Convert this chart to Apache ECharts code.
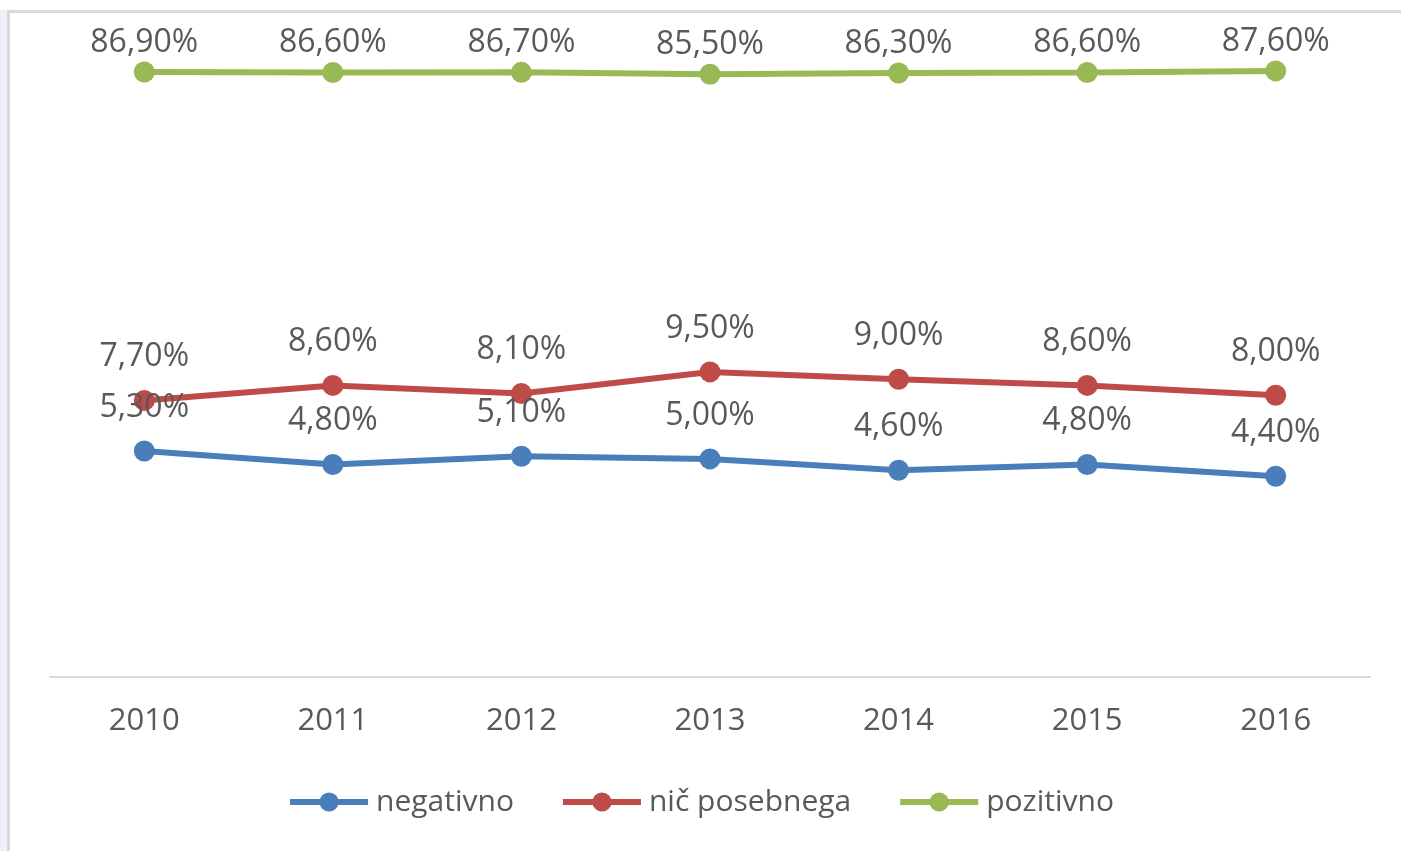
<!DOCTYPE html>
<html>
<head>
<meta charset="utf-8">
<script src="https://cdn.jsdelivr.net/npm/echarts@6/dist/echarts.min.js"></script>
<style>
html,body{margin:0;padding:0;width:1401px;height:851px;overflow:hidden;background:#eef0f6;}
#frame{position:absolute;left:7px;top:10px;width:1394px;height:841px;box-sizing:border-box;border-top:3px solid #d9d9d9;border-left:3px solid #d9d9d9;background:#fff;}
#topstrip{position:absolute;left:0;top:0;width:1401px;height:10px;background:#fff;}
#chart{position:absolute;left:0;top:0;width:1401px;height:851px;}
</style>
</head>
<body>
<div id="topstrip"></div>
<div id="frame"></div>
<div id="chart"></div>
<script>
var categories = ['2010','2011','2012','2013','2014','2015','2016'];
var negativno = [5.3, 4.8, 5.1, 5.0, 4.6, 4.8, 4.4];
var nicPosebnega = [7.7, 8.6, 8.1, 9.5, 9.0, 8.6, 8.0];
var pozitivno = [86.9, 86.6, 86.7, 85.5, 86.3, 86.6, 87.6];
var seriesNames = ['negativno', 'nič posebnega', 'pozitivno'];

var FONT = '"Open Sans", "Noto Sans", sans-serif';
var TXT = '#595959';
function fmt(p){ return p.value.toFixed(2).replace('.', ',') + '%'; }
function mk(name, data, color, dist){
  return {
    name: name, type: 'line', data: data,
    symbol: 'circle', symbolSize: 21,
    lineStyle: {width: 6, color: color},
    itemStyle: {color: color},
    label: {show: true, position: 'top', distance: dist, formatter: fmt,
            color: TXT, fontSize: 32, fontFamily: FONT},
    emphasis: {disabled: true}
  };
}
var chart = echarts.init(document.getElementById('chart'), null, {renderer: 'canvas'});
chart.setOption({
  backgroundColor: 'transparent',
  animation: false,
  grid: {left: 50, right: 31, top: 53, bottom: 174, containLabel: false},
  xAxis: {
    type: 'category', data: categories, boundaryGap: true,
    axisLine: {show: true, lineStyle: {color: '#d9d9d9', width: 2}},
    axisTick: {show: false},
    axisLabel: {color: TXT, fontSize: 31, fontFamily: FONT, margin: 29}
  },
  yAxis: {
    type: 'log', logBase: 10, min: 1, max: 100, show: false,
    splitLine: {show: false}
  },
  legend: {
    bottom: 29, left: 'center', itemWidth: 78, itemHeight: 24, itemGap: 46,
    lineStyle: {width: 6},
    textStyle: {color: TXT, fontSize: 30, fontFamily: FONT, padding: [0, 0, 0, 3]},
    data: seriesNames
  },
  series: [
    mk(seriesNames[0], negativno, '#4A7EBB', 17),
    mk(seriesNames[1], nicPosebnega, '#BE4B48', 17),
    mk(seriesNames[2], pozitivno, '#98B954', 3)
  ]
});
</script>
</body>
</html>
